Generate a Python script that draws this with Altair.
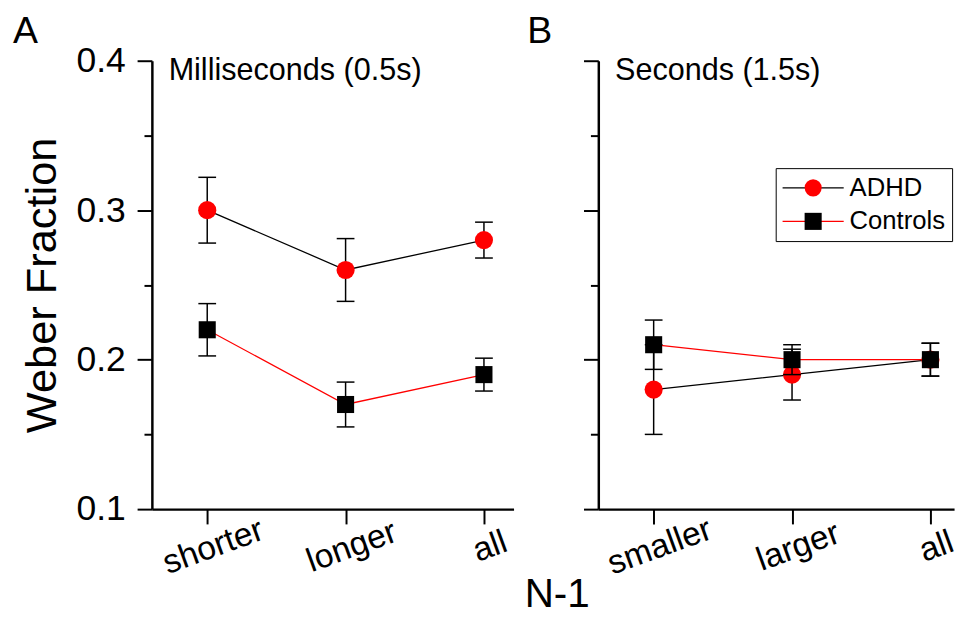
import json
import altair as alt
import pandas as pd

FONT = "Liberation Sans"

# ---------------- data ----------------
cats_A = ["shorter", "longer", "all"]
cats_B = ["smaller", "larger", "all"]
groups = ["ADHD", "Controls"]
panel_letters = ["A", "B"]
panel_titles = ["Milliseconds (0.5s)", "Seconds (1.5s)"]
x_title = "N-1"
y_title = "Weber Fraction"

adhd_A = [0.300, 0.260, 0.280]
adhd_A_err = [0.022, 0.021, 0.012]
ctrl_A = [0.220, 0.170, 0.190]
ctrl_A_err = [0.0175, 0.015, 0.011]

adhd_B = [0.180, 0.190, 0.200]
adhd_B_err = [0.030, 0.017, 0.011]
ctrl_B = [0.210, 0.200, 0.200]
ctrl_B_err = [0.0165, 0.010, 0.011]

y_major = [0.1, 0.2, 0.3, 0.4]
y_minor = [0.15, 0.25, 0.35]
x_positions = [1, 2, 3]


def make_df(cats, adhd, adhd_err, ctrl, ctrl_err):
    rows = []
    for g, means, errs in [(groups[0], adhd, adhd_err), (groups[1], ctrl, ctrl_err)]:
        for p, c, m, e in zip(x_positions, cats, means, errs):
            rows.append({"pos": p, "cat": c, "group": g, "grp": g,
                         "mean": m, "lo": m - e, "hi": m + e})
    return pd.DataFrame(rows)


df_A = make_df(cats_A, adhd_A, adhd_A_err, ctrl_A, ctrl_A_err)
df_B = make_df(cats_B, adhd_B, adhd_B_err, ctrl_B, ctrl_B_err)

IS_MAJOR = "abs(datum.value * 10 - round(datum.value * 10)) < 0.001"

stroke_scale = alt.Scale(domain=groups, range=["black", "red"])
fill_scale = alt.Scale(range=["red", "black"])
shape_scale = alt.Scale(range=["circle", "square"])
marker_sizes = {"ADHD": 340, "Controls": 300}

LINE_SYMBOL = "M-3.58,0H3.58"
PLOT_H = 455


def panel(df, cats, width, xdom, letter, letter_dx, letter_dy, sub, sub_x,
          first, with_legend):
    x_axis = alt.Axis(values=x_positions,
                      labelExpr=json.dumps(cats) + "[datum.value - 1]",
                      labelAngle=-20, labelAlign="center", labelBaseline="top",
                      labelPadding=7, labelFontSize=34, tickSize=15,
                      grid=False)
    x_scale = alt.Scale(domain=xdom, nice=False, zero=False)
    y_axis = alt.Axis(values=y_major + y_minor,
                      tickSize={"condition": {"test": IS_MAJOR, "value": 15}, "value": 8},
                      labels=first,
                      labelExpr=IS_MAJOR + " ? format(datum.value, '.1f') : ''",
                      labelFontSize=36, labelPadding=12,
                      titleFontSize=44, titlePadding=12, titleFontWeight="normal",
                      grid=False)
    y_scale = alt.Scale(domain=[0.1, 0.4], nice=False, zero=False)
    ytitle = y_title if first else None

    X = alt.X("pos:Q", title=None, scale=x_scale, axis=x_axis)

    if with_legend:
        common = dict(title=None, orient="none", legendX=180, legendY=109,
                      symbolSize=300, symbolOffset=18, labelOffset=24,
                      labelFontSize=26, labelColor="black", padding=7,
                      rowPadding=8, labelLimit=0)
        leg_line = alt.Legend(symbolType=LINE_SYMBOL, symbolStrokeWidth=1.3,
                              strokeColor="black", **common)
        leg_pt = alt.Legend(symbolStrokeWidth=0, symbolOpacity=1,
                            labelExpr="''", zindex=1, **common)
    else:
        leg_line = None
        leg_pt = None

    layers = []
    base = alt.Chart(df)
    for g in groups:
        s = base.transform_filter(alt.datum.group == g)
        line = s.mark_line(strokeWidth=1.3).encode(
            x=X,
            y=alt.Y("mean:Q", title=ytitle, scale=y_scale, axis=y_axis),
            stroke=alt.Stroke("group:N", scale=stroke_scale, legend=leg_line),
        )
        rule = s.mark_rule(color="black", strokeWidth=1.5).encode(
            x=X, y=alt.Y("lo:Q", title=ytitle, scale=y_scale, axis=y_axis), y2="hi:Q")
        cap_lo = s.mark_tick(orient="horizontal", size=18, thickness=1.5,
                             color="black", opacity=1).encode(
            x=X, y=alt.Y("lo:Q", title=ytitle, scale=y_scale, axis=y_axis))
        cap_hi = s.mark_tick(orient="horizontal", size=18, thickness=1.5,
                             color="black", opacity=1).encode(
            x=X, y=alt.Y("hi:Q", title=ytitle, scale=y_scale, axis=y_axis))
        pts = s.mark_point(filled=True, size=marker_sizes[g], opacity=1,
                           strokeWidth=0).encode(
            x=X,
            y=alt.Y("mean:Q", title=ytitle, scale=y_scale, axis=y_axis),
            fill=alt.Fill("grp:N", scale=fill_scale, legend=leg_pt),
            shape=alt.Shape("grp:N", scale=shape_scale, legend=leg_pt),
        )
        layers += [line, rule, cap_lo, cap_hi, pts]

    txt = alt.Chart(pd.DataFrame({"t": [sub]})).mark_text(
        align="left", baseline="alphabetic", fontSize=31, color="black"
    ).encode(x=alt.value(sub_x), y=alt.value(20), text="t:N")
    layers.append(txt)

    return alt.layer(*layers).properties(
        width=width, height=PLOT_H,
        title=alt.TitleParams(letter, anchor="start", frame="group", fontSize=38,
                              fontWeight="normal", color="black",
                              dx=letter_dx, dy=letter_dy, offset=0),
    )


pA = panel(df_A, cats_A, 367, [0.6, 3.214], panel_letters[0], -141, 8,
           panel_titles[0], 17, True, False)
pB = panel(df_B, cats_B, 361, [0.6, 3.171], panel_letters[1], -72, -5,
           panel_titles[1], 17, False, True)

chart = alt.hconcat(pA, pB, spacing=86, bounds="flush").resolve_scale(
    x="independent", y="independent", stroke="independent",
    fill="independent", shape="independent"
).properties(
    title=alt.TitleParams(x_title, orient="bottom", anchor="middle", fontSize=41,
                          fontWeight="normal", color="black", dx=73, dy=-8,
                          offset=2),
    padding={"left": 4, "top": 0, "right": 0, "bottom": 0},
).configure(font=FONT).configure_view(stroke="transparent").configure_axis(
    domainColor="black", domainWidth=2.5, tickColor="black", tickWidth=2,
    labelColor="black", titleColor="black", labelFont=FONT, titleFont=FONT,
)

chart.save("out.html", embed_options={"renderer": "svg", "actions": False})
